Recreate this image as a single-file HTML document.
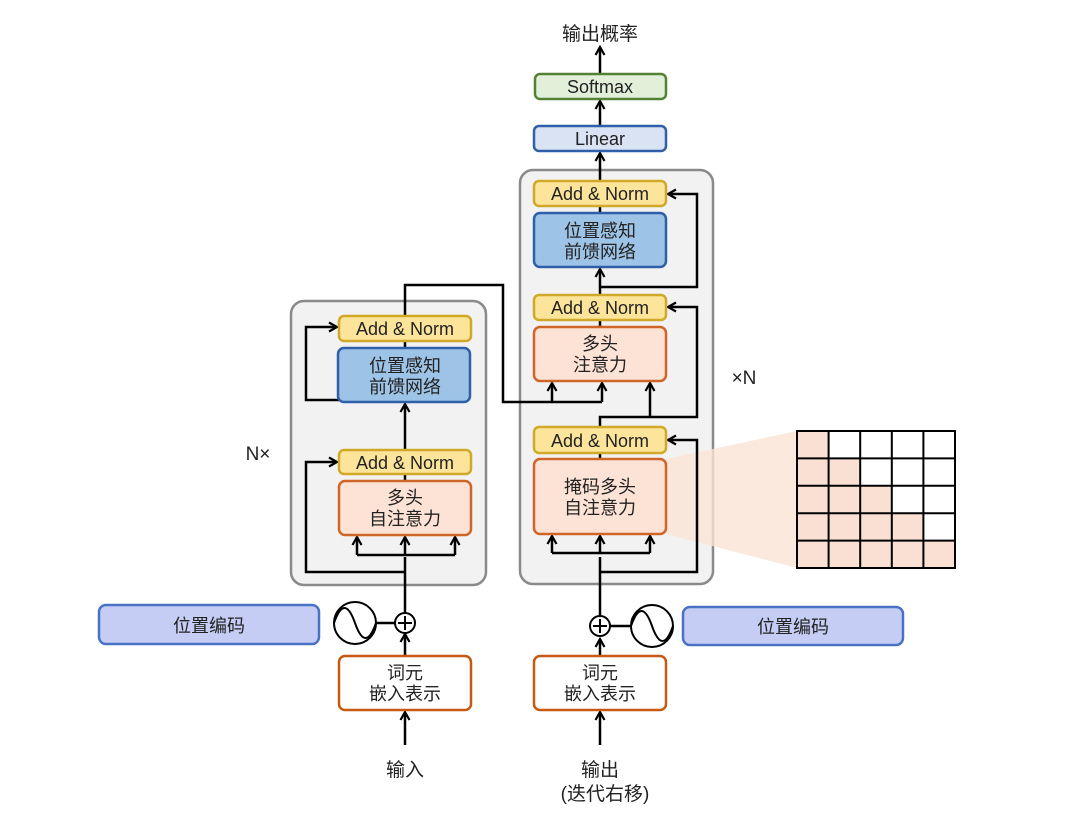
<!DOCTYPE html>
<html><head><meta charset="utf-8"><style>
html,body{margin:0;padding:0;background:#fff;}
svg{display:block;}
text{font-family:"Liberation Sans","Noto Sans CJK SC",sans-serif;fill:#222;text-anchor:middle;}
</style></head><body>
<svg width="1080" height="823" viewBox="0 0 1080 823" xmlns="http://www.w3.org/2000/svg">
<defs>
<marker id="a" markerWidth="12" markerHeight="12" refX="9" refY="6" orient="auto" markerUnits="userSpaceOnUse">
<path d="M1,1.5 L9,6 L1,10.5" fill="none" stroke="#000" stroke-width="2.2"/>
</marker>
</defs>
<rect x="291" y="301" width="195" height="284" rx="13" fill="#f2f2f2" stroke="#8a8a8a" stroke-width="2.5"/>
<rect x="520" y="170" width="193" height="414" rx="13" fill="#f2f2f2" stroke="#8a8a8a" stroke-width="2.5"/>
<polygon points="666,459 797,431 797,568 666,534" fill="#fbe3d5" opacity="0.8"/>
<rect x="797" y="431" width="158" height="137" fill="#fff"/>
<g fill="#f9e0d2">
<rect x="797" y="431" width="31.6" height="27.4"/>
<rect x="797" y="458.4" width="63.2" height="27.4"/>
<rect x="797" y="485.8" width="94.8" height="27.4"/>
<rect x="797" y="513.2" width="126.4" height="27.4"/>
<rect x="797" y="540.6" width="158" height="27.4"/>
</g>
<g stroke="#000" stroke-width="2" fill="none">
<rect x="797" y="431" width="158" height="137"/>
<path d="M828.6,431V568M860.2,431V568M891.8,431V568M923.4,431V568M797,458.4H955M797,485.8H955M797,513.2H955M797,540.6H955"/>
</g>
<g stroke="#000" stroke-width="2.5" fill="none">
<path d="M405,745V712" marker-end="url(#a)"/>
<path d="M405,656V634" marker-end="url(#a)"/>
<path d="M376,623H395"/>
<path d="M405,613V557"/>
<path d="M357,555H455"/>
<path d="M357,555V537" marker-end="url(#a)"/>
<path d="M405,555V537" marker-end="url(#a)"/>
<path d="M455,555V537" marker-end="url(#a)"/>
<path d="M405,572H306V462H337" marker-end="url(#a)"/>
<path d="M405,481V474"/>
<path d="M405,450V404" marker-end="url(#a)"/>
<path d="M405,400H306V327H337" marker-end="url(#a)"/>
<path d="M405,348V341"/>
<path d="M405,316V285H503V402H602"/>
<path d="M552,402V383" marker-end="url(#a)"/>
<path d="M602,402V383" marker-end="url(#a)"/>
<path d="M600,745V712" marker-end="url(#a)"/>
<path d="M600,656V639" marker-end="url(#a)"/>
<path d="M610,626H631"/>
<path d="M600,616V557"/>
<path d="M552,553H650"/>
<path d="M552,553V536" marker-end="url(#a)"/>
<path d="M600,553V536" marker-end="url(#a)"/>
<path d="M650,553V536" marker-end="url(#a)"/>
<path d="M600,572H697V440H668" marker-end="url(#a)"/>
<path d="M600,459V453"/>
<path d="M600,427V417H697V307H668" marker-end="url(#a)"/>
<path d="M650,417V383" marker-end="url(#a)"/>
<path d="M600,327V320"/>
<path d="M600,295V269" marker-end="url(#a)"/>
<path d="M600,287H697V194H668" marker-end="url(#a)"/>
<path d="M600,213V206"/>
<path d="M600,181V153" marker-end="url(#a)"/>
<path d="M600,126V101" marker-end="url(#a)"/>
<path d="M600,74V47" marker-end="url(#a)"/>
</g>
<g stroke-width="2.5">
<rect x="339" y="316" width="132" height="25" rx="5" fill="#fce49a" stroke="#d1a928"/>
<rect x="338" y="348" width="132" height="54" rx="6" fill="#9dc3e6" stroke="#2f5fa8"/>
<rect x="339" y="450" width="132" height="24" rx="5" fill="#fce49a" stroke="#d1a928"/>
<rect x="339" y="481" width="132" height="54" rx="6" fill="#fde3d5" stroke="#d0652a"/>
<rect x="534" y="181" width="132" height="25" rx="5" fill="#fce49a" stroke="#d1a928"/>
<rect x="534" y="213" width="132" height="54" rx="6" fill="#9dc3e6" stroke="#2f5fa8"/>
<rect x="534" y="295" width="132" height="25" rx="5" fill="#fce49a" stroke="#d1a928"/>
<rect x="534" y="327" width="132" height="54" rx="6" fill="#fde3d5" stroke="#d0652a"/>
<rect x="534" y="427" width="132" height="26" rx="5" fill="#fce49a" stroke="#d1a928"/>
<rect x="534" y="459" width="132" height="75" rx="6" fill="#fde3d5" stroke="#d0652a"/>
<rect x="534" y="126" width="132" height="25" rx="5" fill="#dae3f3" stroke="#2f5fa8"/>
<rect x="535" y="74" width="131" height="25" rx="5" fill="#e2f0d9" stroke="#548235"/>
<rect x="339" y="656" width="132" height="54" rx="6" fill="#fff" stroke="#c55a11"/>
<rect x="534" y="656" width="132" height="54" rx="6" fill="#fff" stroke="#c55a11"/>
<rect x="99" y="605" width="220" height="39" rx="7" fill="#c5cdf5" stroke="#4a72c4"/>
<rect x="683" y="607" width="220" height="38" rx="7" fill="#c5cdf5" stroke="#4a72c4"/>
</g>
<g stroke="#000" stroke-width="2" fill="#fff">
<circle cx="405" cy="623" r="10"/>
<circle cx="600" cy="626" r="10"/>
<circle cx="355" cy="623" r="21"/>
<circle cx="652" cy="626" r="21"/>
</g>
<g stroke="#000" stroke-width="2" fill="none">
<path d="M398,623H412M405,616V630M593,626H607M600,619V633"/>
<path d="M334,623 C341,603 348,603 355,623 C362,643 369,643 376,623"/>
<path d="M631,626 C638,606 645,606 652,626 C659,646 666,646 673,626"/>
</g>
<g font-size="18">
<text x="405" y="335">Add &amp; Norm</text>
<text x="405" y="469">Add &amp; Norm</text>
<text x="600" y="200">Add &amp; Norm</text>
<text x="600" y="314">Add &amp; Norm</text>
<text x="600" y="447">Add &amp; Norm</text>
<text x="600" y="145">Linear</text>
<text x="600" y="93">Softmax</text>
<text x="405" y="372">位置感知</text><text x="405" y="393">前馈网络</text>
<text x="600" y="237">位置感知</text><text x="600" y="258">前馈网络</text>
<text x="405" y="504">多头</text><text x="405" y="525">自注意力</text>
<text x="600" y="350">多头</text><text x="600" y="371">注意力</text>
<text x="600" y="493">掩码多头</text><text x="600" y="514">自注意力</text>
<text x="405" y="679">词元</text><text x="405" y="700">嵌入表示</text>
<text x="600" y="679">词元</text><text x="600" y="700">嵌入表示</text>
<text x="209" y="632">位置编码</text>
<text x="793" y="633">位置编码</text>
</g>
<g font-size="19">
<text x="405" y="776">输入</text>
<text x="600" y="776">输出</text>
<text x="605" y="800">(迭代右移)</text>
<text x="600" y="40">输出概率</text>
<text x="258" y="460">N×</text>
<text x="744" y="384">×N</text>
</g>
</svg>
</body></html>
